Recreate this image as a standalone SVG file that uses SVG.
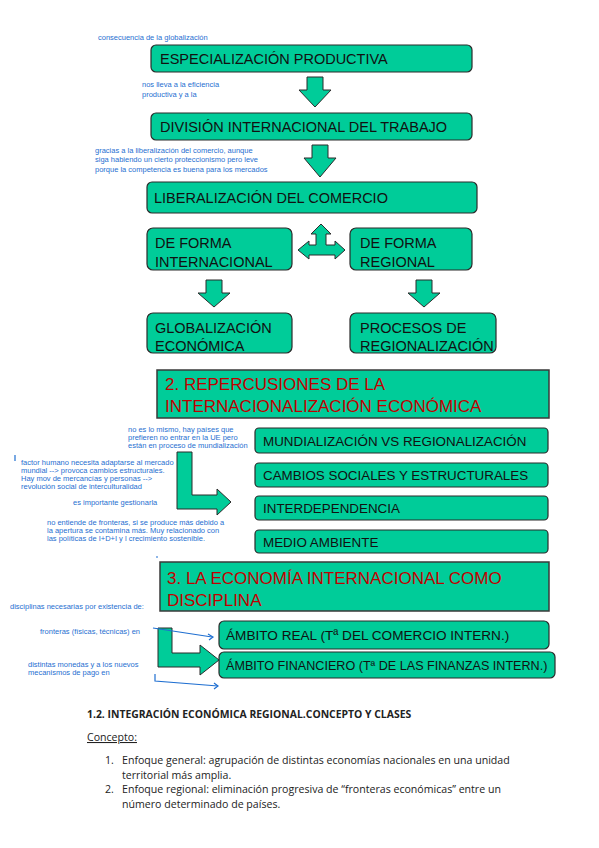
<svg xmlns="http://www.w3.org/2000/svg" width="599" height="848" viewBox="0 0 599 848">
<style>
.box{fill:#00cc99;stroke:#2b2b2b;stroke-width:1.2}
.sec{fill:#00cc99;stroke:#3a3a3a;stroke-width:1.5}
.arr{fill:#00cc99;stroke:#2b2b2b;stroke-width:1}
.t{font-family:"Liberation Sans",Arial,sans-serif;font-size:14.5px;fill:#111}
.ts{font-family:"Liberation Sans",Arial,sans-serif;font-size:13.4px;fill:#111}
.red{font-family:"Liberation Sans",Arial,sans-serif;font-size:17px;fill:#c00000}
.n{font-family:"Liberation Sans",Arial,sans-serif;font-size:7.5px;fill:#1f6fd1}
.doc{font-family:"Open Sans",sans-serif;font-size:10.6px;fill:#222}
.bl{stroke:#1f6fd1;stroke-width:1.2;fill:none}
</style>
<rect width="599" height="848" fill="#fff"/>

<g id="notes">
<text class="n" x="98" y="40">consecuencia de la globalización</text>
<text class="n" x="142" y="87">nos lleva a la eficiencia</text>
<text class="n" x="142" y="97">productiva y a la</text>
<text class="n" x="95" y="153">gracias a la liberalización del comercio, aunque</text>
<text class="n" x="95" y="162">siga habiendo un cierto proteccionismo pero leve</text>
<text class="n" x="95" y="172">porque la competencia es buena para los mercados</text>
<text class="n" x="128" y="432">no es lo mismo, hay países que</text>
<text class="n" x="128" y="440">prefieren no entrar en la UE pero</text>
<text class="n" x="128" y="448">están en proceso de mundialización</text>
<line class="bl" x1="15" y1="455" x2="15" y2="461" stroke-width="0.8"/>
<text class="n" x="21" y="465">factor humano necesita adaptarse al mercado</text>
<text class="n" x="21" y="473">mundial --&gt; provoca cambios estructurales.</text>
<text class="n" x="21" y="481">Hay mov de mercancías y  personas --&gt;</text>
<text class="n" x="21" y="489">revolución social de interculturalidad</text>
<text class="n" x="73" y="505">es importante gestionarla</text>
<text class="n" x="47" y="525">no entiende de fronteras, si se produce más debido a</text>
<text class="n" x="47" y="533">la apertura se contamina más. Muy relacionado con</text>
<text class="n" x="47" y="541">las políticas de I+D+I y l crecimiento sostenible.</text>
<line class="bl" x1="156" y1="557" x2="158" y2="557"/>
<text class="n" x="10" y="609">disciplinas necesarias por existencia de:</text>
<text class="n" x="263" y="603">se basa en la Teoría Económica internacional, vertientes que nos interesan</text>
<text class="n" x="40" y="634">fronteras (físicas, técnicas) en</text>
<text class="n" x="28" y="667">distintas monedas y a los nuevos</text>
<text class="n" x="28" y="675">mecanismos de pago en</text>
</g>

<g id="connectors">
<polygon class="arr" points="307,77 323,77 323,90 331,90 315,107 299,90 307,90"/>
<polygon class="arr" points="312,145 328,145 328,158 336,158 320,177 304,158 312,158"/>
<polygon class="arr" points="321,224 331,234 326,234 326,245 335,245 335,241 345,250 335,259 335,255 309,255 309,259 298,250 309,241 309,245 316,245 316,234 311,234"/>
<polygon class="arr" points="206,280 222,280 222,293 230,293 214,307 198,293 206,293"/>
<polygon class="arr" points="416,280 432,280 432,293 440,293 424,307 408,293 416,293"/>
<polygon class="arr" points="177,452 192,452 192,495 217,495 217,489 231,502 217,515 217,509 177,509"/>
<polygon class="arr" points="158,628 172,628 172,653 200,653 200,645 219,660 200,675 200,667 158,667"/>
<polyline class="bl" points="153,628 212,637"/>
<polyline class="bl" points="208,634 213,637 209,640"/>
<polyline class="bl" points="155,674 155,681 218,686"/>
<polyline class="bl" points="214,683 218,686 214,689"/>
</g>

<g id="n1"><rect class="box" x="151" y="45" width="321" height="27" rx="5"/><text class="t" x="160" y="64">ESPECIALIZACIÓN PRODUCTIVA</text></g>
<g id="n2"><rect class="box" x="151" y="113" width="321" height="27" rx="5"/><text class="t" x="160" y="132">DIVISIÓN INTERNACIONAL DEL TRABAJO</text></g>
<g id="n3"><rect class="box" x="147" y="182" width="330" height="31" rx="5"/><text class="t" x="154" y="203">LIBERALIZACIÓN DEL COMERCIO</text></g>
<g id="n4"><rect class="box" x="147" y="228" width="145" height="42" rx="6"/><text class="t" x="155" y="248">DE FORMA</text><text class="t" x="155" y="267">INTERNACIONAL</text></g>
<g id="n5"><rect class="box" x="350" y="228" width="122" height="42" rx="6"/><text class="t" x="360" y="248">DE FORMA</text><text class="t" x="360" y="267">REGIONAL</text></g>
<g id="n6"><rect class="box" x="147" y="313" width="145" height="40" rx="6"/><text class="t" x="155" y="333">GLOBALIZACIÓN</text><text class="t" x="155" y="351">ECONÓMICA</text></g>
<g id="n7"><rect class="box" x="350" y="313" width="146" height="40" rx="6"/><text class="t" x="360" y="333">PROCESOS DE</text><text class="t" x="360" y="351">REGIONALIZACIÓN</text></g>

<g id="s2"><rect class="sec" x="157" y="370" width="392" height="48"/><text class="red" x="165" y="390">2. REPERCUSIONES DE LA</text><text class="red" x="165" y="412">INTERNACIONALIZACIÓN ECONÓMICA</text></g>
<g id="n8"><rect class="box" x="255" y="428" width="293" height="25" rx="4"/><text class="ts" x="263" y="446">MUNDIALIZACIÓN VS REGIONALIZACIÓN</text></g>
<g id="n9"><rect class="box" x="255" y="463" width="293" height="24" rx="4"/><text class="ts" x="263" y="480">CAMBIOS SOCIALES Y ESTRUCTURALES</text></g>
<g id="n10"><rect class="box" x="255" y="496" width="293" height="24" rx="4"/><text class="ts" x="263" y="513">INTERDEPENDENCIA</text></g>
<g id="n11"><rect class="box" x="255" y="530" width="293" height="23" rx="4"/><text class="ts" x="263" y="547">MEDIO AMBIENTE</text></g>

<g id="s3"><rect class="sec" x="160" y="562" width="389" height="49"/><text class="red" x="167" y="584">3. LA ECONOMÍA INTERNACIONAL COMO</text><text class="red" x="167" y="606">DISCIPLINA</text></g>
<g id="n12"><rect class="box" x="219" y="621" width="330" height="28" rx="5"/><text class="ts" x="226" y="640" style="font-size:13.6px">ÁMBITO REAL (Tª DEL COMERCIO INTERN.)</text></g>
<g id="n13"><rect class="box" x="219" y="652" width="336" height="26" rx="5"/><text class="ts" x="226" y="670" style="font-size:12.6px">ÁMBITO FINANCIERO (Tª DE LAS FINANZAS INTERN.)</text></g>

<g id="doc">
<text class="doc" x="87" y="718" style="font-weight:bold;font-size:10.4px">1.2. INTEGRACIÓN ECONÓMICA REGIONAL.CONCEPTO Y CLASES</text>
<text class="doc" x="87" y="741" text-decoration="underline">Concepto:</text>
<text class="doc" x="105" y="764">1.</text>
<text class="doc" x="122" y="764">Enfoque general: agrupación de distintas economías nacionales en una unidad</text>
<text class="doc" x="122" y="779">territorial más amplia.</text>
<text class="doc" x="105" y="793">2.</text>
<text class="doc" x="122" y="793">Enfoque regional: eliminación progresiva de “fronteras económicas” entre un</text>
<text class="doc" x="122" y="808">número determinado de países.</text>
</g>
</svg>
